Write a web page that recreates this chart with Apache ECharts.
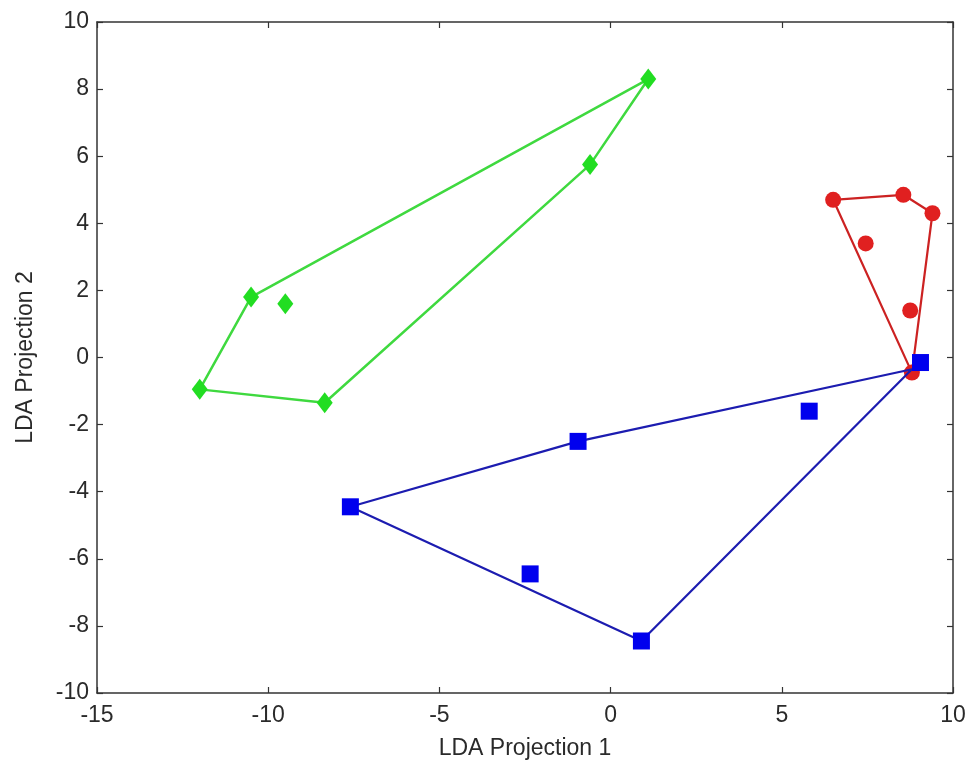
<!DOCTYPE html>
<html>
<head>
<meta charset="utf-8">
<script src="https://cdn.jsdelivr.net/npm/echarts@6/dist/echarts.min.js"></script>
<style>html,body{margin:0;padding:0;background:#fff}#c{width:971px;height:767px}</style>
</head>
<body>
<div id="c"></div>
<script>
// Data
const xTicks = [-15, -10, -5, 0, 5, 10];
const yTicks = [-10, -8, -6, -4, -2, 0, 2, 4, 6, 8, 10];

const greenX = [1.1, -0.6, -10.5, -9.5, -12.0, -8.35];
const greenY = [8.3, 5.75, 1.8, 1.6, -0.95, -1.35];
const greenHull = [0, 2, 4, 5, 1, 0];

const blueX = [9.05, 5.8, -0.95, -7.6, -2.35, 0.9];
const blueY = [-0.15, -1.6, -2.5, -4.45, -6.45, -8.45];
const blueHullX = [-7.6, -0.95, 8.8, 0.9, -7.6];
const blueHullY = [-4.45, -2.5, -0.35, -8.45, -4.45];

const redX = [6.5, 8.55, 9.4, 7.45, 8.75, 8.8];
const redY = [4.7, 4.85, 4.3, 3.4, 1.4, -0.45];
const redHull = [0, 1, 2, 5, 0];

const pts = (xs, ys) => xs.map((x, i) => [x, ys[i]]);
const hull = (xs, ys, idx) => idx.map(i => [xs[i], ys[i]]);

const font = 'Liberation Sans, Arial, sans-serif';
const txtColor = '#2a2a2a';
const axisCommon = () => ({
  axisLine: { onZero: false, lineStyle: { color: '#333', width: 1.5 } },
  axisTick: { inside: true, length: 6, lineStyle: { color: '#333', width: 1.2 } },
  splitLine: { show: false }
});

const chart = echarts.init(document.getElementById('c'));
chart.setOption({
  animation: false,
  backgroundColor: '#fff',
  grid: { left: 97, right: 18, top: 22, bottom: 74 },
  xAxis: [
    Object.assign({
      type: 'value', min: -15, max: 10, interval: 5, position: 'bottom',
      name: 'LDA Projection 1', nameLocation: 'middle', nameGap: 44,
      nameTextStyle: { fontFamily: font, fontSize: 23, color: txtColor },
      axisLabel: { fontFamily: font, fontSize: 23, color: txtColor, margin: 11 }
    }, axisCommon()),
    Object.assign({
      type: 'value', min: -15, max: 10, interval: 5, position: 'top',
      axisLabel: { show: false }
    }, axisCommon())
  ],
  yAxis: [
    Object.assign({
      type: 'value', min: -10, max: 10, interval: 2, position: 'left',
      name: 'LDA Projection 2', nameLocation: 'middle', nameGap: 60,
      nameTextStyle: { fontFamily: font, fontSize: 23, color: txtColor },
      axisLabel: { fontFamily: font, fontSize: 23, color: txtColor, margin: 8 }
    }, axisCommon()),
    Object.assign({
      type: 'value', min: -10, max: 10, interval: 2, position: 'right',
      axisLabel: { show: false }
    }, axisCommon())
  ],
  series: [
    { type: 'line', data: hull(greenX, greenY, greenHull), symbol: 'none',
      lineStyle: { color: '#3fd93f', width: 2.5 }, z: 2 },
    { type: 'scatter', data: pts(greenX, greenY), symbol: 'diamond', symbolSize: [16, 21],
      itemStyle: { color: '#22dd22', opacity: 1 }, z: 3 },
    { type: 'line', data: hull(redX, redY, redHull), symbol: 'none',
      lineStyle: { color: '#cc2222', width: 2.2 }, z: 2 },
    { type: 'scatter', data: pts(redX, redY), symbol: 'circle', symbolSize: 16,
      itemStyle: { color: '#e02020', opacity: 1 }, z: 3 },
    { type: 'line', data: pts(blueHullX, blueHullY), symbol: 'none',
      lineStyle: { color: '#1c1cb0', width: 2.2 }, z: 4 },
    { type: 'scatter', data: pts(blueX, blueY), symbol: 'rect', symbolSize: 17,
      itemStyle: { color: '#0000ee', opacity: 1 }, z: 5 }
  ]
});
</script>
</body>
</html>
